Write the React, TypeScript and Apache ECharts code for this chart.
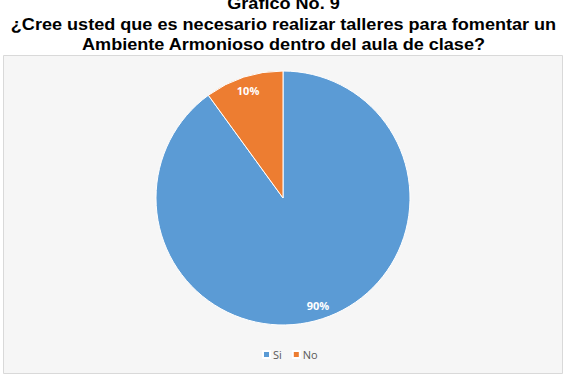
import React, { useEffect, useRef } from "react";
import * as echarts from "echarts";

const titleLines = [
  "Grafico No. 9",
  "¿Cree usted que es necesario realizar talleres para fomentar un",
  "Ambiente Armonioso dentro del aula de clase?",
];
const categories = ["Si", "No"];
const values = [90, 10];
const colors = ["#5B9BD5", "#ED7D31"];

export default function App() {
  const ref = useRef<HTMLDivElement>(null);
  useEffect(() => {
    document.body.style.margin = "0";
    const chart = echarts.init(ref.current!, undefined, { renderer: "svg" });
    const data = categories.map((name, i) => ({ name, value: values[i] }));
    const titleY = [4, 24.5, 45];
    chart.setOption({
      animation: false,
      backgroundColor: "#ffffff",
      color: colors,
      graphic: [
        {
          type: "rect",
          z: -10,
          shape: { x: 3.5, y: 55.5, width: 559, height: 318 },
          style: { fill: "#f6f6f6", stroke: "#d9d9d9", lineWidth: 1 },
          silent: true,
        },
        ...titleLines.map((t, i) => ({
          type: "text",
          x: 283.5,
          y: titleY[i],
          scaleX: 1.13,
          silent: true,
          style: {
            text: t,
            textAlign: "center",
            textVerticalAlign: "middle",
            fontFamily: "Liberation Sans, Arial, sans-serif",
            fontWeight: "bold",
            fontSize: 16,
            fill: "#000000",
          },
        })),
      ],
      legend: {
        data: categories,
        bottom: 15,
        left: 257,
        itemWidth: 7,
        itemHeight: 7,
        itemGap: 10,
        icon: "rect",
        textStyle: {
          fontFamily: "Open Sans, Noto Sans, sans-serif",
          fontSize: 11,
          color: "#595959",
          padding: [0, 0, 0, -2],
        },
      },
      series: [
        {
          type: "pie",
          center: [283, 198],
          radius: [0, 127],
          startAngle: 90,
          clockwise: true,
          data,
          label: { show: false },
          labelLine: { show: false },
          itemStyle: { borderColor: "#ffffff", borderWidth: 1 },
          emphasis: { disabled: true },
        },
        {
          type: "pie",
          center: [283, 198],
          radius: [93, 127],
          startAngle: 90,
          clockwise: true,
          data,
          silent: true,
          itemStyle: { color: "transparent", borderWidth: 0 },
          label: {
            show: true,
            position: "inside",
            formatter: "{c}%",
            color: "#ffffff",
            fontWeight: "bold",
            fontSize: 11,
            fontFamily: "Open Sans, Noto Sans, sans-serif",
          },
          labelLine: { show: false },
          emphasis: { disabled: true },
        },
      ],
    });
    return () => chart.dispose();
  }, []);
  return <div ref={ref} style={{ width: 567, height: 380 }} />;
}
